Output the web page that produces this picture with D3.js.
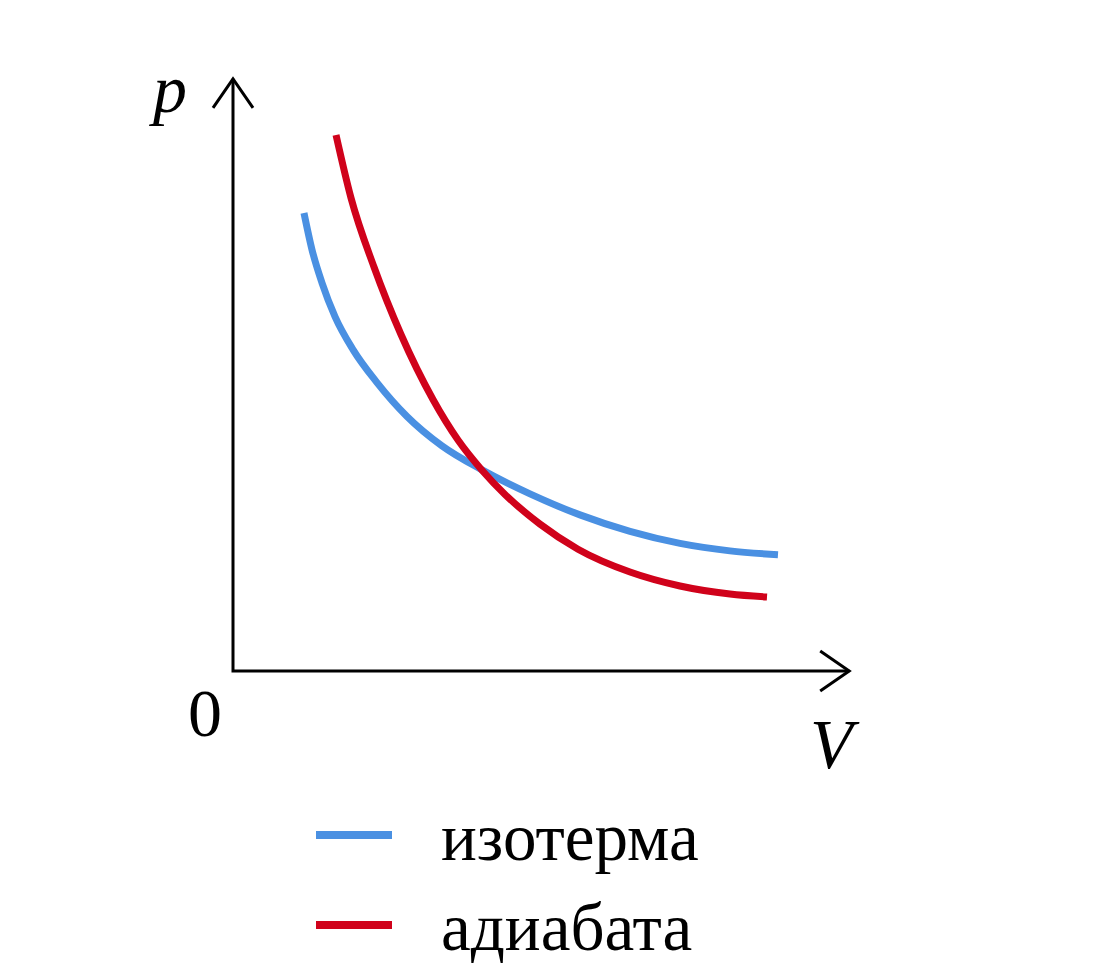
<!DOCTYPE html>
<html><head><meta charset="utf-8">
<script src="https://cdn.jsdelivr.net/npm/d3@7"></script>
<style>body{margin:0;background:#fff}svg{display:block}</style>
</head><body>
<svg id="c" width="1104" height="972"></svg>
<script>
const seriesNames = ["изотерма", "адиабата"];
const seriesColors = ["#4a90e2", "#d0021b"];
const isothermV = [1.183, 1.317, 1.483, 1.70, 2.00, 2.40, 2.90, 3.483, 4.15, 4.95, 5.783, 6.617, 7.45, 8.283, 9.083];
const isothermP = [7.633, 7.02, 6.47, 5.907, 5.357, 4.807, 4.242, 3.752, 3.352, 2.952, 2.602, 2.327, 2.127, 2.002, 1.938];
const adiabatV = [1.717, 1.967, 2.35, 2.80, 3.333, 3.75, 4.15, 4.533, 5.117, 5.75, 6.617, 7.45, 8.283, 8.90];
const adiabatP = [8.933, 7.883, 6.733, 5.608, 4.525, 3.85, 3.347, 2.943, 2.448, 2.03, 1.65, 1.417, 1.283, 1.233];
const axisLabels = {x: "V", y: "p", origin: "0"};

const svg = d3.select("#c");
const x = d3.scaleLinear().domain([0, 10]).range([233, 833]);
const y = d3.scaleLinear().domain([0, 10]).range([671, 71]);
const xMax = 10.27, yMax = 9.87;

// axes
const ax = svg.append("g").attr("stroke", "#000").attr("stroke-width", 3).attr("fill", "none");
ax.append("path").attr("d", `M${x(0)},${y(yMax)}L${x(0)},${y(0)}L${x(xMax)},${y(0)}`).attr("stroke-linejoin","miter");
ax.append("path").attr("d", `M${x(0)-20},${y(yMax)+29}L${x(0)},${y(yMax)}L${x(0)+20},${y(yMax)+29}`);
ax.append("path").attr("d", `M${x(xMax)-29},${y(0)-20}L${x(xMax)},${y(0)}L${x(xMax)-29},${y(0)+20}`);

svg.append("text").attr("x", 153).attr("y", 112).attr("font-family", "Liberation Serif, serif")
  .attr("font-style", "italic").attr("font-size", 68).text(axisLabels.y);
svg.append("text").attr("x", 810).attr("y", 768).attr("font-family", "Liberation Serif, serif")
  .attr("font-style", "italic").attr("font-size", 70).text(axisLabels.x);
svg.append("text").attr("x", 188).attr("y", 736).attr("font-family", "Liberation Serif, serif")
  .attr("font-size", 68).text(axisLabels.origin);

const line = d3.line().x(d => x(d[0])).y(d => y(d[1])).curve(d3.curveMonotoneX);
const series = [d3.zip(isothermV, isothermP), d3.zip(adiabatV, adiabatP)];
series.forEach((s, i) => {
  svg.append("path").datum(s).attr("d", line).attr("fill", "none")
    .attr("stroke", seriesColors[i]).attr("stroke-width", 7);
});

// legend
const legY = [835, 925];
seriesNames.forEach((n, i) => {
  svg.append("line").attr("x1", 316).attr("x2", 392).attr("y1", legY[i]).attr("y2", legY[i])
    .attr("stroke", seriesColors[i]).attr("stroke-width", 8);
  svg.append("text").attr("x", 441).attr("y", legY[i] + 25).attr("font-family", "Liberation Serif, serif")
    .attr("font-size", 67).text(n);
});
</script>
</body></html>
